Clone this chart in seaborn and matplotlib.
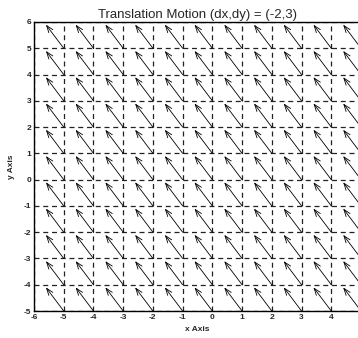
import numpy as np
import matplotlib
matplotlib.use("Agg")
import matplotlib.pyplot as plt
import seaborn as sns

# Data
dx, dy = -2, 3
arrow_scale = 0.3
x_grid = [-5, -4, -3, -2, -1, 0, 1, 2, 3, 4, 5, 6]
y_grid = [-5, -4, -3, -2, -1, 0, 1, 2, 3, 4, 5]
x_ticks = [-6, -5, -4, -3, -2, -1, 0, 1, 2, 3, 4]
y_ticks = [-5, -4, -3, -2, -1, 0, 1, 2, 3, 4, 5, 6]
title = "Translation Motion (dx,dy) = (-2,3)"

sns.set_style("white")
plt.rcParams['font.family'] = ['Liberation Sans', 'DejaVu Sans']
plt.rcParams['axes.unicode_minus'] = False

fig = plt.figure(figsize=(3.58, 3.38), dpi=100)
ax = fig.add_axes([34/358, 27/338, 327/358, 289/338])

ax.set_xlim(-6, 5)
ax.set_ylim(-5, 6)

for gx in x_grid:
    for gy in y_grid:
        ax.annotate("", xy=(gx + dx*arrow_scale, gy + dy*arrow_scale), xytext=(gx, gy),
                    arrowprops=dict(arrowstyle="->,head_length=0.5,head_width=0.18",
                                    color="black", lw=0.6, shrinkA=0, shrinkB=0),
                    annotation_clip=False)

ax.set_xticks(x_ticks)
ax.set_yticks(y_ticks)
ax.grid(True, color="#222222", linestyle=(0, (4, 3)), linewidth=0.9)
ax.tick_params(direction="in", length=3, width=0.8, labelsize=6, pad=2)
for lab in ax.get_xticklabels() + ax.get_yticklabels():
    lab.set_fontweight("bold")
for s in ax.spines.values():
    s.set_color("black")
    s.set_linewidth(1.0)

ax.set_title(title, fontsize=9.5, pad=3)
ax.set_xlabel("x Axis", fontsize=6, fontweight="bold", labelpad=4)
ax.set_ylabel("y Axis", fontsize=6, fontweight="bold", labelpad=6)

fig.savefig("out.png", dpi=100)
